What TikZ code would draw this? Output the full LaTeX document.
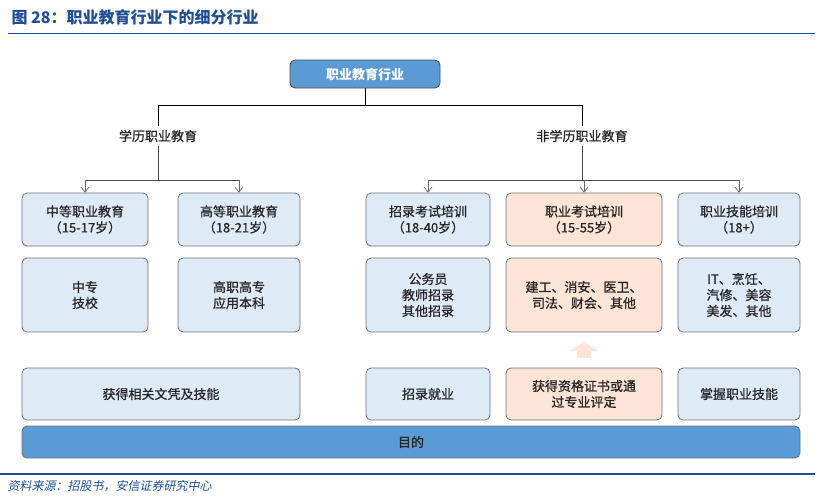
\documentclass[tikz,border=0pt]{standalone}
\usepackage{fontspec}
\setmainfont{Noto Sans CJK SC}
\newfontfamily\slantcjk[FakeSlant=0.2]{Noto Sans CJK SC}
\newfontfamily\medcjk[FakeBold=0.8]{Noto Sans CJK SC}
\usetikzlibrary{arrows.meta}
\definecolor{lb}{HTML}{DEEBF7}
\definecolor{pk}{HTML}{FCE4D6}
\definecolor{bb}{HTML}{5B9BD5}
\definecolor{tb}{HTML}{1F4E96}
\definecolor{bd}{HTML}{707070}
\begin{document}
\begin{tikzpicture}[x=1pt,y=-1pt,
 bx/.style={draw=bd,line width=0.8pt,rounded corners=5pt,fill=lb,align=center,font=\fontsize{13}{16}\medcjk,text=black!85},
 pbx/.style={bx,fill=pk},
 ar/.style={draw=black!60,-{Straight Barb[length=5pt,width=8pt]},line width=0.7pt},
 ln/.style={draw=black!70,line width=0.7pt}]
\useasboundingbox (0,0) rectangle (820,496);
\node[anchor=west,text=tb,font=\fontsize{16}{18}\selectfont\bfseries] (title) at (8,17) {图 28：职业教育行业下的细分行业};
\draw[tb,line width=1pt] (8,33) -- (815,33);
\node[bx,fill=bb,text=white,minimum width=150pt,minimum height=28pt,draw=black!70,font=\fontsize{13}{16}\bfseries] (top) at (365,74) {职业教育行业};
\node[font=\fontsize{13}{16}\medcjk,text=black!85] (l) at (158,136) {学历职业教育};
\node[font=\fontsize{13}{16}\medcjk,text=black!85] (r) at (582,136) {非学历职业教育};
\coordinate (j) at (365,105);
\draw[line width=1pt] (top.south) -- (j);
\draw[line width=1pt] (l.north|-j) -- (r.north|-j);
\draw[line width=1pt] (l.north|-j) -- (l.north);
\draw[line width=1pt] (r.north|-j) -- (r.north);
% row1
\foreach \n/\xa/\xb/\t/\s in {a/22/148/中等职业教育\\（15-17岁）/bx, b/178/300/高等职业教育\\（18-21岁）/bx, c/366/490/招录考试培训\\（18-40岁）/bx, d/506/662/职业考试培训\\（15-55岁）/pbx, e/678/800/职业技能培训\\（18+）/bx}{
 \node[\s,minimum width={\xb-\xa},minimum height=53pt] (\n1) at ({(\xa+\xb)/2},219.5) {\t};
}
\foreach \n/\xa/\xb/\t/\s in {a/22/148/中专\\技校/bx, b/178/300/高职高专\\应用本科/bx, c/366/490/公务员\\教师招录\\其他招录/bx, d/506/662/建工、消安、医卫、\\司法、财会、其他/pbx, e/678/800/IT、烹饪、\\汽修、美容\\美发、其他/bx}{
 \node[\s,minimum width={\xb-\xa},minimum height=74pt] (\n2) at ({(\xa+\xb)/2},295) {\t};
}
\node[bx,minimum width=278pt,minimum height=52pt] (a3) at (161,394) {获得相关文凭及技能};
\node[bx,minimum width=124pt,minimum height=52pt] (c3) at (428,394) {招录就业};
\node[pbx,minimum width=156pt,minimum height=52pt] (d3) at (584,394) {获得资格证书或通\\过专业评定};
\node[bx,minimum width=122pt,minimum height=52pt] (e3) at (739,394) {掌握职业技能};
\node[bx,fill=bb,draw=bd,minimum width=778pt,minimum height=32pt] (goal) at (411,442) {目的};
% left split
\coordinate (lj) at (158,180);
\draw[ln] (l.south) -- (lj);
\draw[ln] (a1.north|-lj) -- (b1.north|-lj);
\draw[ar] (a1.north|-lj) -- (a1.north);
\draw[ar] (b1.north|-lj) -- (b1.north);
\coordinate (rj) at (582,180);
\draw[ln] (r.south) -- (rj);
\draw[ln] (c1.north|-rj) -- (e1.north|-rj);
\draw[ar] (c1.north|-rj) -- (c1.north);
\draw[ar] (d1.north|-rj) -- (d1.north);
\draw[ar] (e1.north|-rj) -- (e1.north);
% fat arrow
\fill[pk] (577,358) -- (577,351) -- (570,351) -- (584,342) -- (598,351) -- (591,351) -- (591,358) -- cycle;
\draw[tb,line width=1.2pt] (0,474) -- (815,474);
\node[anchor=west,text=tb,font=\fontsize{12}{14}\slantcjk] (src) at (4,486) {资料来源：招股书，安信证券研究中心};
\end{tikzpicture}
\end{document}
